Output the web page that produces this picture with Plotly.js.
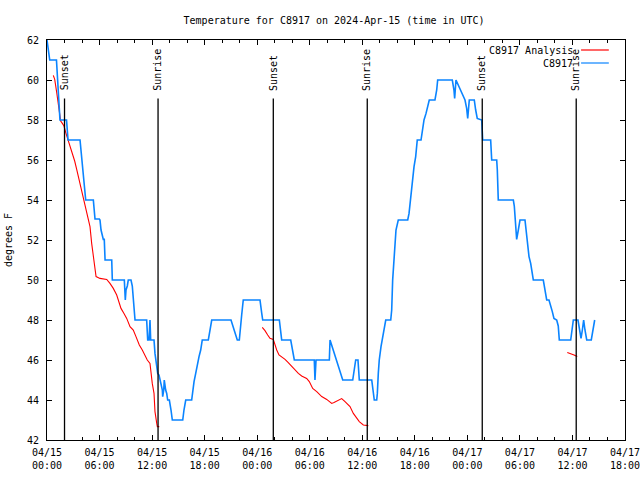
<!DOCTYPE html>
<html>
<head>
<meta charset="utf-8">
<script src="https://cdn.plot.ly/plotly-3.0.1.min.js"></script>
<style>html,body{margin:0;padding:0;background:#fff;}#chart{width:640px;height:480px;}</style>
</head>
<body>
<div id="chart"></div>
<script>
// Hours since 2024-04-15 00:00 UTC
const obsHours = [0,0.17,0.31,1.08,1.18,1.29,1.48,2.23,2.40,3.77,3.88,4.05,4.22,4.42,5.29,5.48,5.97,6.05,6.17,6.25,6.43,6.54,6.62,6.63,7.39,7.46,8.83,8.94,9.02,9.17,9.28,9.59,9.74,9.85,9.97,10.05,11.38,11.50,11.65,11.76,11.84,12.22,12.33,12.53,12.64,12.79,12.90,13.02,13.17,13.21,13.33,13.39,13.47,13.55,13.67,13.78,13.97,14.05,14.16,14.31,15.50,15.64,15.84,16.52,16.64,16.79,16.98,17.16,17.36,17.55,17.73,18.42,18.61,18.81,21.01,21.20,21.47,21.73,21.96,22.04,22.23,22.41,24.32,24.52,24.63,26.53,26.69,26.80,27.83,28.06,28.24,30.52,30.60,30.72,32.24,32.32,32.69,33.08,33.38,33.65,33.77,34.91,35.06,35.25,35.51,35.66,37.08,37.26,37.37,37.65,37.72,37.83,37.94,38.14,38.33,38.51,38.68,39.25,39.36,39.47,39.66,39.85,40.11,41.19,41.34,41.53,41.71,41.91,42.10,42.28,42.71,42.90,43.05,43.28,43.47,43.65,44.30,44.50,44.61,46.28,46.47,46.55,46.70,46.96,47.35,47.73,47.92,48.04,48.22,48.79,48.95,49.13,49.64,49.75,50.66,50.78,51.35,51.42,51.53,53.25,53.36,53.44,53.55,53.63,53.82,54.01,54.58,54.70,54.84,55.04,55.23,55.42,55.53,56.67,56.87,57.06,57.32,57.51,57.70,57.89,58.20,58.38,58.50,59.80,59.91,60.10,60.63,60.78,60.98,61.13,61.28,61.43,61.63,62.15,62.31,62.54];
const obsTemp = [62,61.5,61,61,60.3,59.2,58,58,57,57,56.5,55.5,55,54,54,53.05,53.05,53,52.5,52.33,52.03,52.03,51.5,51,51,50,50,49,49.5,49.7,50,50,49.7,49.17,48.5,48,48,47,47,48,47,47,46.33,45.67,45.33,45.25,45,44.83,44.5,44.17,44.5,45,44.67,44.5,44.33,44,44,43.83,43.5,43,43,43.5,44,44,44.5,44.92,45.33,45.83,46.17,46.5,47,47,47.5,48,48,47.75,47.33,47,47,47.5,48.25,49,49,48.33,48,48,47.33,47,47,46.33,46,46,45,46,46,47,46.5,46,45.5,45.17,45,45,45.5,46,46,45,45,44.33,44,44,44.33,45.33,46,46.67,47.17,47.67,48,48,48.5,50,51.5,52.5,53,53,53.33,54.17,55,55.67,56.17,57,57,57.5,58,58.33,58.67,59,59,59.5,60,60,59.5,59.08,60,59.75,59.42,59,58.58,58.08,59,59,58.5,58.08,58,57,57,56,56,55.5,54,54,53.7,53,52.4,52.03,52.5,53,53,52.5,51.8,51.17,50.83,50.17,50,50,49.5,49,49,48.75,48.42,48.08,48,47.7,47,47,47.42,48,48,47.67,47.08,47.5,48,47.5,47,47,47.5,48];

// Analysis series (null separates the three runs)
const anaHours = [0.72,0.88,1.11,1.37,1.56,1.75,1.94,2.14,2.40,2.63,2.89,3.16,3.39,3.65,3.92,4.22,4.49,4.72,4.91,5.10,5.29,5.60,6.05,6.82,7.19,7.57,7.96,8.22,8.45,8.79,9.10,9.48,9.85,10.16,10.54,10.88,11.19,11.45,11.76,11.88,12.02,12.22,12.33,12.53,12.60,12.82,
  18.0,
  24.58,24.89,25.20,25.46,25.84,26.03,26.23,26.49,26.80,27.18,27.55,27.94,28.32,28.70,29.08,29.65,29.95,30.34,30.80,31.37,31.94,32.51,32.77,33.26,33.65,34.03,34.60,34.98,35.36,35.66,36.12,36.51,36.69,
  48.0,
  59.41,59.80,60.18,60.55];
const anaTemp = [60.23,60.03,59.37,58.53,57.95,57.83,57.7,57.37,57.03,56.7,56.37,55.95,55.53,55.03,54.53,54.03,53.53,53.03,52.67,51.83,51.17,50.17,50.08,50.03,49.83,49.58,49.25,48.92,48.58,48.33,48.08,47.67,47.5,47.17,46.75,46.5,46.25,46,45.83,45.25,44.83,44.33,43.42,42.83,42.67,42.67,
  null,
  47.63,47.47,47.25,47.08,47.03,46.75,46.5,46.25,46.17,46.03,45.87,45.67,45.5,45.33,45.2,45.08,44.92,44.58,44.42,44.17,44.03,43.83,43.87,44,44.07,43.92,43.67,43.33,43.08,42.92,42.75,42.72,42.72,
  null,
  46.38,46.33,46.25,46.17];

const sunHours = [2.0, 12.68, 25.84, 36.57, 49.70, 60.43];
const sunLabels = ["Sunset","Sunrise","Sunset","Sunrise","Sunset","Sunrise"];

const tickHours = [0,6,12,18,24,30,36,42,48,54,60,66];
const tickLabels = ["04/15<br>00:00","04/15<br>06:00","04/15<br>12:00","04/15<br>18:00","04/16<br>00:00","04/16<br>06:00","04/16<br>12:00","04/16<br>18:00","04/17<br>00:00","04/17<br>06:00","04/17<br>12:00","04/17<br>18:00"];
const yTicks = [42,44,46,48,50,52,54,56,58,60,62];

const seriesNames = ["C8917 Analysis","C8917"];
const seriesColors = ["#ff0000","#0a84ff"];

const FONT = "DejaVu Sans Mono, Liberation Mono, monospace";

const traces = [
  {x: anaHours, y: anaTemp, type:'scatter', mode:'lines', name: seriesNames[0],
   line:{color: seriesColors[0], width:1.1}, connectgaps:false, hoverinfo:'skip'},
  {x: obsHours, y: obsTemp, type:'scatter', mode:'lines', name: seriesNames[1],
   line:{color: seriesColors[1], width:1.6}, hoverinfo:'skip'}
];

const shapes = [];
const annotations = [];
sunHours.forEach((h,i) => {
  shapes.push({type:'line', xref:'x', yref:'paper', x0:h, x1:h, y0:0, y1:0.854,
    line:{color:'#000', width:1.3}});
  annotations.push({xref:'x', yref:'paper', x:h, y:0.868, text:sunLabels[i], textangle:-90,
    showarrow:false, xanchor:'center', yanchor:'bottom', font:{family:FONT, size:10, color:'#000'}});
});

// legend (gnuplot style: text right, sample line after it)
const legY = [0.975, 0.9425];
seriesNames.forEach((n,i) => {
  annotations.push({xref:'paper', yref:'paper', x:0.913, y:legY[i], text:n, showarrow:false,
    xanchor:'right', yanchor:'middle', font:{family:FONT, size:10, color:'#000'}});
  shapes.push({type:'line', xref:'paper', yref:'paper', x0:0.924, x1:0.972, y0:legY[i], y1:legY[i],
    line:{color:seriesColors[i], width:1.2}});
});

const layout = {
  width:640, height:480,
  margin:{l:47, r:15, t:40, b:40},
  paper_bgcolor:'#fff', plot_bgcolor:'#fff',
  showlegend:false,
  hovermode:false,
  font:{family:FONT, size:10, color:'#000'},
  title:{text:"Temperature for C8917 on 2024-Apr-15 (time in UTC)", x:0.522, xref:'container', xanchor:'center',
    y:0.958, yref:'container', yanchor:'middle', font:{family:FONT, size:10, color:'#000'}},
  xaxis:{range:[-0.0005,66.0005], tickmode:'array', tickvals:tickHours, ticktext:tickLabels,
    ticks:'inside', ticklen:5, tickcolor:'#000', tickwidth:1, ticklabeloverflow:'allow', ticklabelstandoff:3,
    showline:true, linecolor:'#000', linewidth:1, mirror:'ticks', showgrid:false, zeroline:false,
    minor:{tickmode:'linear', tick0:0, dtick:2, ticks:'inside', ticklen:3, tickcolor:'#000', showgrid:false},
    tickfont:{family:FONT, size:10, color:'#000'}},
  yaxis:{range:[42,62], tickmode:'array', tickvals:yTicks,
    ticks:'inside', ticklen:5, tickcolor:'#000', tickwidth:1, ticklabelstandoff:5,
    showline:true, linecolor:'#000', linewidth:1, mirror:'ticks', showgrid:false, zeroline:false,
    title:{text:"degrees F", font:{family:FONT, size:10, color:'#000'}, standoff:12},
    tickfont:{family:FONT, size:10, color:'#000'}},
  shapes: shapes,
  annotations: annotations
};

Plotly.newPlot('chart', traces, layout, {staticPlot:true, displayModeBar:false});
</script>
</body>
</html>
